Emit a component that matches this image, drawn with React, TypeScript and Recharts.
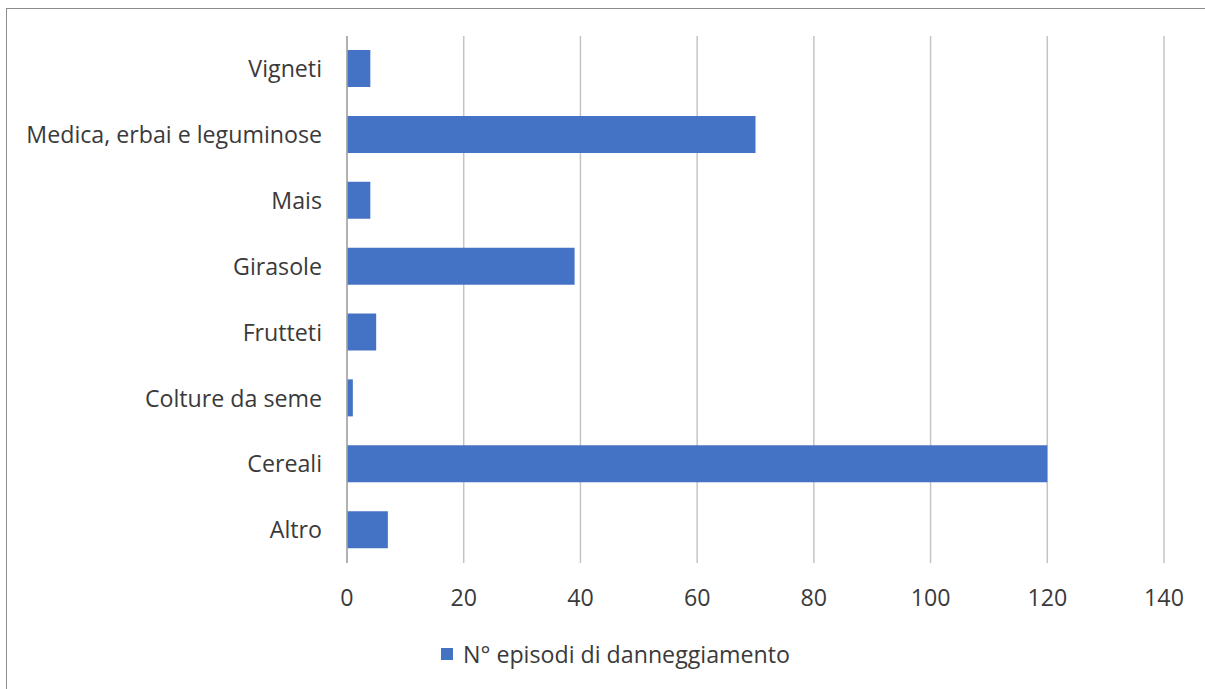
import React from "react";
import { BarChart, Bar, XAxis, YAxis, CartesianGrid, Legend } from "recharts";

const categories = [
  "Vigneti",
  "Medica, erbai e leguminose",
  "Mais",
  "Girasole",
  "Frutteti",
  "Colture da seme",
  "Cereali",
  "Altro",
];
const episodi = [4, 70, 4, 39, 5, 1, 120, 7];
const xTicks = [0, 20, 40, 60, 80, 100, 120, 140];
const seriesName = "N° episodi di danneggiamento";

const data = categories.map((c, i) => ({ name: c, value: episodi[i] }));

const FONT = "'Open Sans', 'Liberation Sans', sans-serif";
const FS = 23.2;
const TEXT = "#3a3a3a";
const BLUE = "#4472c4";

const LegendContent = () => (
  <div style={{ display: "flex", alignItems: "center", fontFamily: FONT, fontSize: FS, color: TEXT, whiteSpace: "nowrap", lineHeight: "30px" }}>
    <span style={{ display: "inline-block", width: 12, height: 12, background: BLUE, marginRight: 10 }} />
    <span>{seriesName}</span>
  </div>
);

export default function App() {
  return (
    <div style={{ position: "absolute", left: 0, top: 0, width: 1205, height: 689, background: "#fff", overflow: "hidden" }}>
      <div style={{ position: "absolute", left: 6, top: 8, width: 1300, height: 800, borderTop: "1.5px solid #8c8c8c", borderLeft: "1.5px solid #8c8c8c" }} />
      <div style={{ position: "absolute", left: 0, top: 0 }}>
        <BarChart
          width={1205}
          height={689}
          layout="vertical"
          data={data}
          margin={{ top: 36, right: 41, bottom: 0, left: 0 }}
          barSize={37}
        >
          <CartesianGrid horizontal={false} vertical={true} stroke="#c4c4c4" strokeWidth={1.5} />
          <XAxis
            type="number"
            domain={[0, 140]}
            ticks={xTicks}
            axisLine={false}
            tickLine={false}
            tickSize={0}
            tickMargin={27}
            height={126}
            tick={{ fill: TEXT, fontSize: FS, fontFamily: FONT }}
            interval={0}
          />
          <YAxis
            type="category"
            dataKey="name"
            width={347}
            axisLine={{ stroke: "#a6a6a6", strokeWidth: 1.5 }}
            tickLine={false}
            tickSize={0}
            tickMargin={25}
            tick={{ fill: TEXT, fontSize: FS, fontFamily: FONT }}
            interval={0}
          />
          <Legend
            layout="horizontal"
            verticalAlign="middle"
            align="center"
            content={<LegendContent />}
            wrapperStyle={{ left: 441, top: 639, width: "auto" }}
          />
          <Bar dataKey="value" name={seriesName} fill={BLUE} isAnimationActive={false} />
        </BarChart>
      </div>
    </div>
  );
}
